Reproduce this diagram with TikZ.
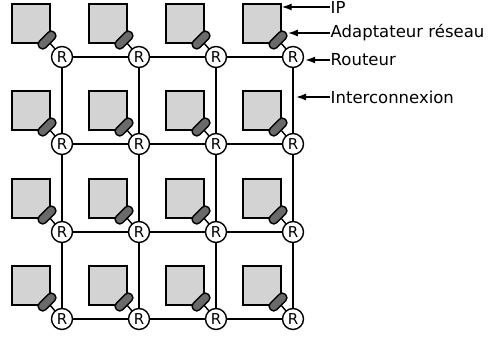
\documentclass[tikz,border=0pt]{standalone}
\usepackage{fontspec}
\setmainfont{DejaVu Sans}
\usepackage{tikz}
\usepackage{xcolor}
\usetikzlibrary{calc,arrows.meta}

\definecolor{ipgray}{HTML}{D3D3D3}
\definecolor{adgray}{HTML}{6A6A6A}

\begin{document}
\begin{tikzpicture}[x=1pt,y=-1pt,line width=1.4pt,font=\fontsize{16.5}{18}\selectfont]
        \useasboundingbox (0,0) rectangle (490,338);
        \tikzstyle{router}=[draw,circle,fill=white,minimum size=21pt,inner sep=0pt,font=\fontsize{15}{16}\selectfont]
        \tikzstyle{ip}=[draw,fill=ipgray,minimum width=38pt,minimum height=39pt,inner sep=0pt]
        \tikzstyle{adapter}=[draw,fill=adgray,rounded corners=4pt,minimum width=21pt,minimum height=9pt,inner sep=0pt,rotate=45]
        \tikzstyle{label}=[anchor=west,inner sep=0pt]
        \tikzstyle{pointer}=[-{Latex[length=10pt,width=7pt]}]

            % routeurs, IP et adaptateurs
            \foreach \i/\x in {0/62,1/139,2/216,3/293} {
                \foreach \j/\y in {0/57,1/144,2/232,3/319} {
                    \coordinate (C\i\j) at (\x,\y);
                    \draw ($(C\i\j)+(-19,-22)$) -- (C\i\j);
                    \node[ip] (IP\i\j) at ($(C\i\j)+(-31,-33.5)$) {};
                    \node[adapter] (A\i\j) at ($(C\i\j)+(-15,-17)$) {};
                    \node[router] (R\i\j) at (C\i\j) {R};
                }
            }

            % interconnexions
            \foreach \i/\k in {0/1,1/2,2/3} {
                \foreach \j in {0,...,3} {
                    \draw (R\i\j) -- (R\k\j);
                    \draw (R\j\i) -- (R\j\k);
                }
            }

            % legende
            \node[label] (lIP) at (330,7) {IP};
            \node[label] (lAd) at (330,33) {Adaptateur réseau};
            \node[label] (lR) at (330,60) {Routeur};
            \node[label] (lI) at (330,97) {Interconnexion};

            \draw[pointer] (lIP.west) -- (lIP.west -| IP30.east);
            \draw[pointer] (lAd.west) -- ($(lAd.west -| A30.east)+(2,0)$);
            \draw[pointer] (lR.west) -- ($(lR.west -| R30.east)+(1,0)$);
            \draw[pointer] (lI.west) -- ($(lI.west -| R30.south)+(3,0)$);

        \end{tikzpicture}
\end{document}
